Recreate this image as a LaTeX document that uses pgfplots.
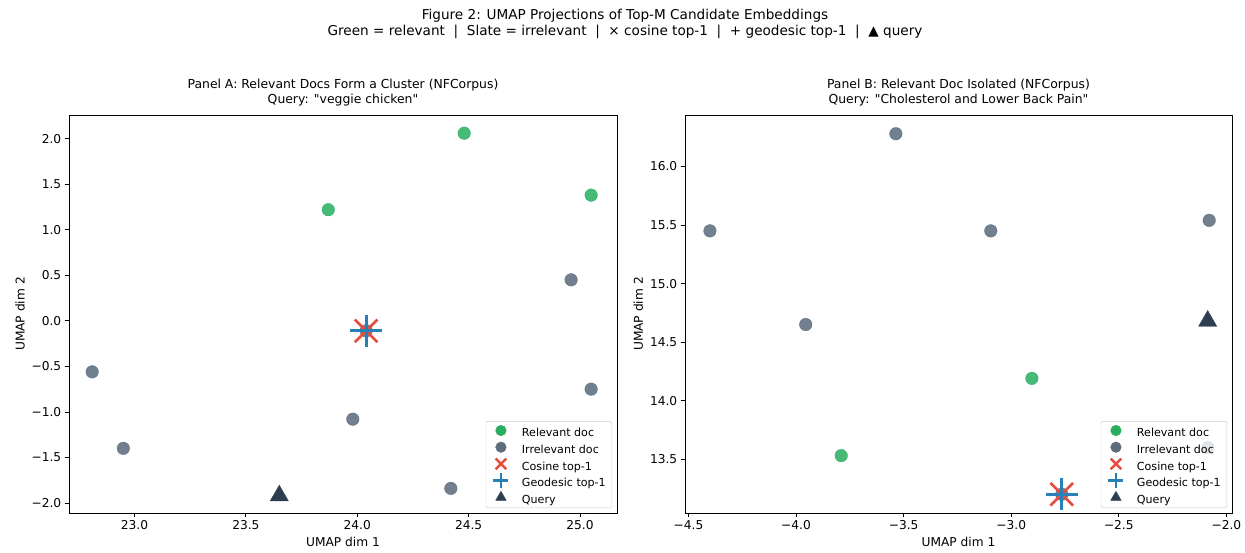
\documentclass[border=0pt]{standalone}
\usepackage{pgfplots}
\pgfplotsset{compat=1.18}
\usepackage{fontspec}
\setmainfont{DejaVu Sans}
\definecolor{relg}{HTML}{27AE60}
\definecolor{slate}{HTML}{5D6D7E}
\definecolor{cosr}{HTML}{E74C3C}
\definecolor{geob}{HTML}{2980B9}
\definecolor{qd}{HTML}{2C3E50}
\newcommand{\fs}{\fontsize{12.2}{14.5}\selectfont}
\pgfplotsset{
  umap/.style={
    scale only axis, height=398pt,
    axis line style={line width=0.8pt},
    tick align=outside, xtick pos=left, ytick pos=left,
    major tick length=4.3pt,
    tick style={line width=0.8pt,black},
    ticklabel style={font=\fs},
    label style={font=\fs},
    xlabel={UMAP dim 1}, ylabel={UMAP dim 2},
    title style={font=\fontsize{12.4}{14.5}\selectfont, align=center, at={(0.5,1)}, anchor=south, yshift=1pt, inner sep=2pt},
    legend cell align=left,
    legend image code/.code={\path[draw=none,fill=none] (0pt,-5.5pt) rectangle (30pt,11.2pt); \draw[##1, overlay, opacity=1, fill opacity=1, draw opacity=1] plot coordinates {(11pt,3.5pt)};},
    legend style={at={(1,0)}, anchor=south east, xshift=-5pt, yshift=5pt,
      draw=black!20, rounded corners=2pt, fill=white, fill opacity=0.8, text opacity=1,
      font=\fontsize{11.1}{13}\selectfont, inner xsep=4pt, inner ysep=1.5pt, row sep=0pt,
      nodes={text height=8pt, text depth=2.5pt, inner ysep=0pt, inner xsep=2pt}},
  },
  irr/.style={only marks, mark=*, color=slate, mark size=6.3pt, mark options={draw=slate, fill=slate, opacity=0.88}},
  rel/.style={only marks, mark=*, color=relg, mark size=6.3pt, mark options={draw=relg, fill=relg, opacity=0.85}},
  cos/.style={only marks, mark=x, color=cosr, mark size=16pt, mark options={draw=cosr, line width=2.7pt}},
  geo/.style={only marks, mark=+, color=geob, mark size=16pt, mark options={draw=geob, line width=3pt}},
  qry/.style={only marks, mark=triangle*, color=qd, mark size=10.5pt, mark options={draw=qd, fill=qd}},
}
\newcommand{\addlegends}{%
  \addlegendimage{only marks, mark=*, color=relg, mark size=5.3pt, mark options={draw=relg, fill=relg, opacity=1}}
  \addlegendentry{Relevant doc}
  \addlegendimage{only marks, mark=*, color=slate, mark size=5.3pt, mark options={draw=slate, fill=slate, opacity=1}}
  \addlegendentry{Irrelevant doc}
  \addlegendimage{only marks, mark=x, color=cosr, line width=2.4pt, mark size=7.5pt, mark options={draw=cosr, line width=2.4pt, opacity=1}}
  \addlegendentry{Cosine top-1}
  \addlegendimage{only marks, mark=+, color=geob, line width=2.6pt, mark size=7.5pt, mark options={draw=geob, line width=2.6pt, opacity=1}}
  \addlegendentry{Geodesic top-1}
  \addlegendimage{only marks, mark=triangle*, color=qd, mark size=6pt, mark options={draw=qd, fill=qd, opacity=1}}
  \addlegendentry{Query}
}
\begin{document}
\begin{tikzpicture}[x=1pt,y=1pt]
\path[use as bounding box] (0,0) rectangle (1245,552);
\node[align=center, font=\fontsize{13.6}{16.3}\selectfont] at (625,528)
  {Figure 2: UMAP Projections of Top-M Candidate Embeddings\\
   Green = relevant\ \ |\ \ Slate = irrelevant\ \ |\ \ × cosine top-1\ \ |\ \ + geodesic top-1\ \ |\ \ ▲ query};
\begin{axis}[umap, width=548pt, at={(69pt,39pt)}, anchor=south west,
  xmin=22.706, xmax=25.166, ymin=-2.11, ymax=2.26,
  xtick={23,23.5,24,24.5,25}, xticklabels={23.0,23.5,24.0,24.5,25.0},
  ytick={-2,-1.5,-1,-0.5,0,0.5,1,1.5,2},
  yticklabels={−2.0,−1.5,−1.0,−0.5,0.0,0.5,1.0,1.5,2.0},
  title={Panel A: Relevant Docs Form a Cluster (NFCorpus)\\Query: \textquotedbl veggie chicken\textquotedbl}]
\addlegends
\addplot[irr, forget plot] coordinates {(24.96,0.45) (24.04,-0.11) (22.81,-0.56) (25.05,-0.75) (23.98,-1.08) (22.95,-1.40) (24.42,-1.84)};
\addplot[rel, forget plot] coordinates {(24.48,2.06) (23.87,1.22) (25.05,1.38)};
\addplot[cos, forget plot] coordinates {(24.04,-0.11)};
\addplot[geo, forget plot] coordinates {(24.04,-0.11)};
\addplot[qry, forget plot] coordinates {(23.65,-1.92)};
\end{axis}
\begin{axis}[umap, width=547pt, at={(685pt,39pt)}, anchor=south west,
  xmin=-4.516, xmax=-1.974, ymin=13.04, ymax=16.44,
  xtick={-4.5,-4,-3.5,-3,-2.5,-2}, xticklabels={−4.5,−4.0,−3.5,−3.0,−2.5,−2.0},
  ytick={13.5,14,14.5,15,15.5,16}, yticklabels={13.5,14.0,14.5,15.0,15.5,16.0},
  title={Panel B: Relevant Doc Isolated (NFCorpus)\\Query: \textquotedbl Cholesterol and Lower Back Pain\textquotedbl}]
\addlegends
\addplot[irr, forget plot] coordinates {(-4.40,15.45) (-3.536,16.28) (-3.095,15.45) (-2.08,15.54) (-3.955,14.65) (-2.765,13.20) (-2.086,13.60)};
\addplot[rel, forget plot] coordinates {(-2.904,14.19) (-3.79,13.53)};
\addplot[cos, forget plot] coordinates {(-2.765,13.20)};
\addplot[geo, forget plot] coordinates {(-2.765,13.20)};
\addplot[qry, forget plot] coordinates {(-2.087,14.68)};
\end{axis}
\end{tikzpicture}
\end{document}
